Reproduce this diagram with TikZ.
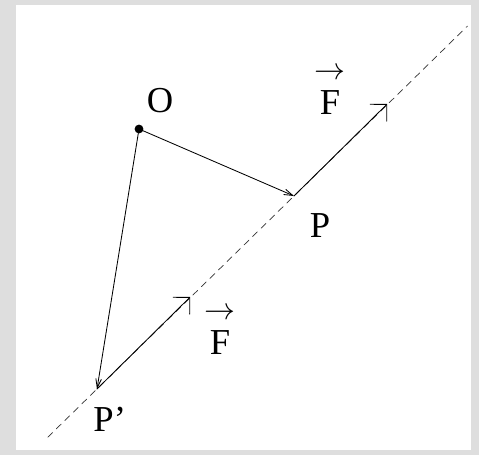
\documentclass[tikz,border=0pt]{standalone}
\usepackage{amsmath}
\usepackage{fontspec}
\setmainfont{Liberation Serif}
\usetikzlibrary{arrows.meta, calc}

\newcommand{\forcevec}{$\overset{\raisebox{3pt}{\resizebox{22pt}{!}{$\rightarrow$}}}{\mathrm{F}}$}

\begin{document}
\begin{tikzpicture}[line cap=round, line join=round]
    \definecolor{framegray}{HTML}{DEDEDE}
    \tikzset{
      posline/.style={line width=0.6pt, -{Straight Barb[length=0.22cm, width=0.14cm]}},
      forceline/.style={line width=0.6pt, -{Straight Barb[length=0.3cm, width=0.6cm]}},
      ptlabel/.style={inner sep=0pt, anchor=base, font=\fontsize{26}{30}\selectfont}
    }

    % --- frame
    \fill[framegray] (0, 0) rectangle (11.975, 11.375);
    \fill[white] (0.4, 0.125) rectangle (11.775, 11.25);
    \useasboundingbox (0, 0) rectangle (11.975, 11.375);

    % --- the origin, the two points and the force
    \coordinate (O) at (3.475, 8.15);
    \coordinate (P) at (7.35, 6.475);
    \coordinate (Pp) at (2.425, 1.65);
    \coordinate (Ftip) at ($(P) + (2.33, 2.3)$);
    \coordinate (Fptip) at ($(Pp) + (2.33, 2.3)$);

    % --- the line of action, dashed
    \coordinate (lineS) at ($(Pp)!-0.25!(P)$);
    \coordinate (lineE) at ($(P)!-0.88!(Pp)$);
    \draw[black!80, line width=0.5pt, dash pattern=on 4.8pt off 3.7pt] (lineS) -- (lineE);

    % --- position vectors and the force at P and at P'
    \draw[posline] (O) -- (P);
    \draw[posline] (O) -- (Pp);
    \draw[forceline] (P) -- (Ftip);
    \draw[forceline] (Pp) -- (Fptip);
    \fill (O) circle (0.11);

    % --- labels
    \node[ptlabel] (Olabel) at (4.0, 8.55) {O};
    \node[ptlabel] (Plabel) at (8.0, 5.43) {P};
    \node[ptlabel, anchor=base west] (Pplabel) at (2.33, 0.575) {P'};
    \node[ptlabel] (Flabel) at (8.25, 8.5) {\forcevec};
    \node[ptlabel] (Fplabel) at (5.5, 2.5) {\forcevec};
  \end{tikzpicture}
\end{document}
